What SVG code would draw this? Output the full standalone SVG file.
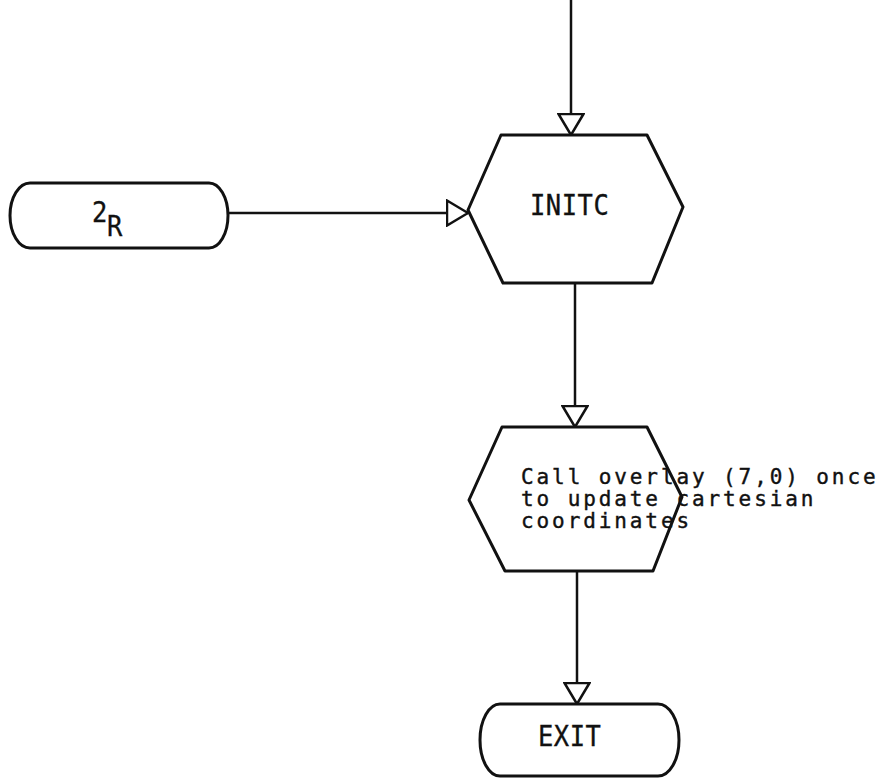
<svg xmlns="http://www.w3.org/2000/svg" width="886" height="780" viewBox="0 0 886 780">
<style>
.sh{fill:none;stroke:#111;stroke-width:3;stroke-linejoin:round}
.ln{fill:none;stroke:#111;stroke-width:2.5}
.tx{font-family:"DejaVu Sans Mono","Liberation Mono",monospace;font-size:25.5px;letter-spacing:0.5px;fill:#111;stroke:#111;stroke-width:0.3}
.tc{font-family:"DejaVu Sans Mono","Liberation Mono",monospace;font-size:21px;letter-spacing:2.9px;fill:#111;stroke:#111;stroke-width:0.4}
</style>
<defs>
<marker id="ah" viewBox="0 0 23 28" refX="22" refY="14" markerWidth="23" markerHeight="28" markerUnits="userSpaceOnUse" orient="auto">
<path d="M1,1.5 L22,14 L1,26.5 Z" fill="#fff" stroke="#111" stroke-width="2.5" stroke-linejoin="miter"/>
</marker>
</defs>
<rect width="886" height="780" fill="#fff"/>
<g id="connectors">
<line class="ln" x1="571" y1="0" x2="571" y2="135" marker-end="url(#ah)"/>
<line class="ln" x1="228" y1="213" x2="468" y2="213" marker-end="url(#ah)"/>
<line class="ln" x1="575" y1="283" x2="575" y2="427" marker-end="url(#ah)"/>
<line class="ln" x1="577" y1="571" x2="577" y2="704" marker-end="url(#ah)"/>
</g>
<g id="n2R">
<path class="sh" d="M30,183 H209 A19,32.5 0 0 1 209,248 H30 A20,32.5 0 0 1 30,183 Z"/>
<text class="tx" transform="translate(92,222) scale(1,1.12)">2</text>
<text class="tx" transform="translate(107,236) scale(1,1.12)">R</text>
</g>
<g id="INITC">
<polygon class="sh" points="501,135 647,135 683,207 652,283 503,283 468,210"/>
<text class="tx" transform="translate(530,215) scale(1,1.12)">INITC</text>
</g>
<g id="call">
<polygon class="sh" points="502,427 647,427 682,497 653,571 505,571 469,500"/>
<text class="tc" x="521" y="484">Call overlay (7,0) once</text>
<text class="tc" x="521" y="506">to update cartesian</text>
<text class="tc" x="521" y="528">coordinates</text>
</g>
<g id="EXIT">
<path class="sh" d="M500,704 H658 A21,36 0 0 1 658,776 H500 A20,36 0 0 1 500,704 Z"/>
<text class="tx" transform="translate(538,746) scale(1,1.12)">EXIT</text>
</g>
</svg>
